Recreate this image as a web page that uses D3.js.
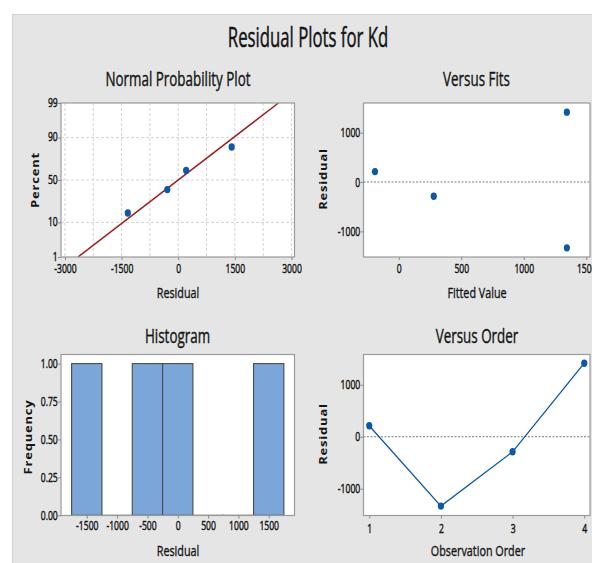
<!DOCTYPE html>
<html>
<head>
<meta charset="utf-8">
<script src="https://cdn.jsdelivr.net/npm/d3@7"></script>
<style>
  body { margin: 0; background: #fff; }
  text { font-family: "Open Sans", "DejaVu Sans", sans-serif; fill: #141414; }
</style>
</head>
<body>
<script>
const svgWidth = 592
const svgHeight = 563

// data
const obsOrder = [1, 2, 3, 4]
const fitted = [-190, 1345, 280, 1345]
const residuals = [210, -1335, -290, 1415]
const normResid = [-1335, -290, 210, 1415]
const normPercent = [15.9, 38.6, 61.4, 84.1]
const fitLineResid = [-2655, 2655]
const fitLinePercent = [1, 99]
const histMid = [-1500, -1000, -500, 0, 500, 1000, 1500]
const histCount = [1, 0, 1, 1, 0, 0, 1]
const binWidth = 500

const nppXTicks = [-3000, -1500, 0, 1500, 3000]
const nppXGrid = [-3000, -2250, -1500, -750, 0, 750, 1500, 2250, 3000]
const nppYTicks = [1, 10, 50, 90, 99]
const nppYGrid = [10, 50, 90]
const fitsXTicks = [0, 500, 1000, 1500]
const residTicks = [-1000, 0, 1000]
const histXTicks = [-1500, -1000, -500, 0, 500, 1000, 1500]
const histYTicks = [0, 0.25, 0.5, 0.75, 1]

const blue = "#0b57a8"
const ink = "#141414"

// inverse normal cdf (Acklam) for the probability axis
function qnorm(p) {
  const a = [-39.69683028665376, 220.9460984245205, -275.9285104469687, 138.3577518672690, -30.66479806614716, 2.506628277459239]
  const b = [-54.47609879822406, 161.5858368580409, -155.6989798598866, 66.80131188771972, -13.28068155288572]
  const c = [-0.007784894002430293, -0.3223964580411365, -2.400758277161838, -2.549732539343734, 4.374664141464968, 2.938163982698783]
  const d = [0.007784695709041462, 0.3224671290700398, 2.445134137142996, 3.754408661907416]
  const pl = 0.02425
  let q, r
  if (p < pl) {
    q = Math.sqrt(-2 * Math.log(p))
    return (((((c[0]*q+c[1])*q+c[2])*q+c[3])*q+c[4])*q+c[5]) / ((((d[0]*q+d[1])*q+d[2])*q+d[3])*q+1)
  } else if (p <= 1 - pl) {
    q = p - 0.5; r = q * q
    return (((((a[0]*r+a[1])*r+a[2])*r+a[3])*r+a[4])*r+a[5])*q / (((((b[0]*r+b[1])*r+b[2])*r+b[3])*r+b[4])*r+1)
  }
  q = Math.sqrt(-2 * Math.log(1 - p))
  return -(((((c[0]*q+c[1])*q+c[2])*q+c[3])*q+c[4])*q+c[5]) / ((((d[0]*q+d[1])*q+d[2])*q+d[3])*q+1)
}

const svg = d3.select("body").append("svg")
  .attr("width", svgWidth)
  .attr("height", svgHeight)

svg.append("rect")
  .attr("x", 12.5).attr("y", 14.5)
  .attr("width", svgWidth).attr("height", svgHeight)
  .attr("fill", "#e5e5e5")
  .attr("stroke", "#d3d3d3")

// narrow text helper: the reference glyphs are squeezed horizontally
function label(text, x, y, size, sx, opts = {}) {
  const t = svg.append("text")
    .attr("transform", `translate(${x},${y}) scale(${sx},1)` + (opts.rotate ? " rotate(-90)" : ""))
    .attr("text-anchor", "middle")
    .attr("font-size", size)
    .text(text)
  if (opts.bold) t.attr("font-weight", opts.bold)
  if (opts.spacing) t.attr("letter-spacing", opts.spacing)
  if (opts.thick) t.attr("stroke", ink).attr("stroke-width", opts.thick)
  return t
}

label("Residual Plots for Kd", 308, 46.5, 27, 0.62, { thick: 0.5 })

const colLeft = [61, 294.5]
const colRight = [363.5, 590]
const rowTop = [103, 257]
const rowBottom = [354.5, 515.5]

const plain = d => String(d)

function frame(xr, yr) {
  return svg.append("rect")
    .attr("x", xr[0]).attr("y", yr[0])
    .attr("width", xr[1] - xr[0]).attr("height", yr[1] - yr[0])
    .attr("fill", "#fff")
}
function border(xr, yr) {
  svg.append("rect")
    .attr("x", xr[0]).attr("y", yr[0])
    .attr("width", xr[1] - xr[0]).attr("height", yr[1] - yr[0])
    .attr("fill", "none")
    .attr("stroke", "#9a9a9a")
    .attr("stroke-width", 1.2)
}
function styleAxis(g, dx) {
  g.select(".domain").remove()
  g.selectAll("line").attr("stroke", "#888")
  g.selectAll("text")
    .attr("font-size", 13)
    .attr("fill", ink)
    .attr("stroke", ink)
    .attr("stroke-width", 0.45)
    .style("font-family", '"Open Sans", sans-serif')
    .attr("transform", "scale(0.66,1)")
  if (dx !== undefined) g.selectAll("text").attr("x", dx)
}
function zeroLine(xr, y) {
  svg.append("line")
    .attr("x1", xr[0]).attr("x2", xr[1])
    .attr("y1", y(0)).attr("y2", y(0))
    .attr("stroke", "#7a7a7a")
    .attr("stroke-dasharray", "2,1.5")
}
function dots(data, cx, cy) {
  svg.append("g").selectAll("ellipse")
    .data(data)
    .enter()
    .append("ellipse")
    .attr("cx", cx)
    .attr("cy", cy)
    .attr("rx", 3.1)
    .attr("ry", 3.7)
    .attr("fill", blue)
}

// ---- Normal probability plot
{
  const x = d3.scaleLinear().domain([-3105, 3080]).range(colLeft)
  const y = d3.scaleLinear().domain([qnorm(0.01), qnorm(0.99)]).range([rowTop[1], rowTop[0]])
  const yp = p => y(qnorm(p / 100))
  frame(colLeft, rowTop)
  svg.append("g").selectAll("line")
    .data(nppXGrid).enter().append("line")
    .attr("x1", d => x(d)).attr("x2", d => x(d))
    .attr("y1", rowTop[0]).attr("y2", rowTop[1])
    .attr("stroke", "#d4d4d4").attr("stroke-dasharray", "3,2")
  svg.append("g").selectAll("line")
    .data(nppYGrid).enter().append("line")
    .attr("x1", colLeft[0]).attr("x2", colLeft[1])
    .attr("y1", d => yp(d)).attr("y2", d => yp(d))
    .attr("stroke", "#d4d4d4").attr("stroke-dasharray", "3,2")
  svg.append("line")
    .attr("x1", x(fitLineResid[0])).attr("y1", yp(fitLinePercent[0]))
    .attr("x2", x(fitLineResid[1])).attr("y2", yp(fitLinePercent[1]))
    .attr("stroke", "#a31c1c").attr("stroke-width", 1.5)
  dots(normResid.map((r, i) => [r, normPercent[i]]), d => x(d[0]), d => yp(d[1]))
  border(colLeft, rowTop)
  const xa = svg.append("g").attr("transform", `translate(0,${rowTop[1]})`)
    .call(d3.axisBottom(x).tickValues(nppXTicks).tickSize(3).tickSizeOuter(0).tickFormat(plain))
  styleAxis(xa)
  xa.selectAll("text").attr("y", 7)
  const ya = svg.append("g").attr("transform", `translate(${colLeft[0]},0)`)
    .call(d3.axisLeft(y).tickValues(nppYTicks.map(p => qnorm(p / 100))).tickSize(3).tickSizeOuter(0)
      .tickFormat((d, i) => nppYTicks[i]))
  styleAxis(ya, -5)
  ya.selectAll("text").attr("dy", "0.25em")
  label("Normal Probability Plot", 178, 86, 20, 0.67, { thick: 0.4 })
  label("Residual", 178, 297.5, 15, 0.72, { thick: 0.35 })
  label("Percent", 39, 180, 13, 0.85, { rotate: true, bold: 700, spacing: 0.8 })
}

// ---- Versus fits
{
  const x = d3.scaleLinear().domain([-282, 1530]).range(colRight)
  const y = d3.scaleLinear().domain([-1520, 1600]).range([rowTop[1], rowTop[0]])
  frame(colRight, rowTop)
  zeroLine(colRight, y)
  dots(fitted.map((f, i) => [f, residuals[i]]), d => x(d[0]), d => y(d[1]))
  border(colRight, rowTop)
  const xa = svg.append("g").attr("transform", `translate(0,${rowTop[1]})`)
    .call(d3.axisBottom(x).tickValues(fitsXTicks).tickSize(3).tickSizeOuter(0).tickFormat(plain))
  styleAxis(xa)
  xa.selectAll("text").attr("y", 7)
  const ya = svg.append("g").attr("transform", `translate(${colRight[0]},0)`)
    .call(d3.axisLeft(y).tickValues(residTicks).tickSize(3).tickSizeOuter(0).tickFormat(plain))
  styleAxis(ya, -5)
  label("Versus Fits", 476.5, 85.5, 20, 0.67, { thick: 0.4 })
  label("Fitted Value", 477, 297.5, 15, 0.72, { thick: 0.35 })
  label("Residual", 327, 179, 13, 0.85, { rotate: true, bold: 700, spacing: 0.8 })
}

// ---- Histogram
{
  const x = d3.scaleLinear().domain([-1925, 1925]).range(colLeft)
  const y = d3.scaleLinear().domain([0, 1.06]).range([515.3, rowBottom[0]])
  frame(colLeft, rowBottom)
  svg.append("g").selectAll("rect")
    .data(histMid.map((m, i) => [m, histCount[i]]))
    .enter()
    .append("rect")
    .attr("x", d => x(d[0] - binWidth / 2))
    .attr("width", d => x(d[0] + binWidth / 2) - x(d[0] - binWidth / 2))
    .attr("y", d => y(d[1]))
    .attr("height", d => Math.max(y(0) - y(d[1]), 0.01))
    .attr("fill", "#7ba6d9")
    .attr("stroke", "#4a4a4a")
    .attr("stroke-width", 1.1)
  border(colLeft, rowBottom)
  const xa = svg.append("g").attr("transform", `translate(0,${rowBottom[1]})`)
    .call(d3.axisBottom(x).tickValues(histXTicks).tickSize(3).tickSizeOuter(0).tickFormat(plain))
  styleAxis(xa)
  xa.selectAll("text").attr("y", 5)
  const ya = svg.append("g").attr("transform", `translate(${colLeft[0]},0)`)
    .call(d3.axisLeft(y).tickValues(histYTicks).tickSize(3).tickSizeOuter(0).tickFormat(d3.format(".2f")))
  styleAxis(ya, -5)
  label("Histogram", 177.5, 342.5, 20, 0.67, { thick: 0.4 })
  label("Residual", 178, 556, 15, 0.72, { thick: 0.35 })
  label("Frequency", 32, 437, 13, 0.85, { rotate: true, bold: 700, spacing: 0.8 })
}

// ---- Versus order
{
  const x = d3.scaleLinear().domain([0.92, 4.08]).range(colRight)
  const y = d3.scaleLinear().domain([-1516, 1582]).range([rowBottom[1], rowBottom[0]])
  frame(colRight, rowBottom)
  zeroLine(colRight, y)
  const pts = obsOrder.map((o, i) => [o, residuals[i]])
  svg.append("path")
    .datum(pts)
    .attr("fill", "none")
    .attr("stroke", blue)
    .attr("stroke-width", 1.3)
    .attr("d", d3.line().x(d => x(d[0])).y(d => y(d[1])))
  dots(pts, d => x(d[0]), d => y(d[1]))
  border(colRight, rowBottom)
  const xa = svg.append("g").attr("transform", `translate(0,${rowBottom[1]})`)
    .call(d3.axisBottom(x).tickValues(obsOrder).tickSize(3).tickSizeOuter(0).tickFormat(plain))
  styleAxis(xa)
  xa.selectAll("text").attr("y", 8)
  const ya = svg.append("g").attr("transform", `translate(${colRight[0]},0)`)
    .call(d3.axisLeft(y).tickValues(residTicks).tickSize(3).tickSizeOuter(0).tickFormat(plain))
  styleAxis(ya, -5)
  label("Versus Order", 477, 342.5, 20, 0.67, { thick: 0.4 })
  label("Observation Order", 478, 555.5, 15, 0.72, { thick: 0.35 })
  label("Residual", 327, 434, 13, 0.85, { rotate: true, bold: 700, spacing: 0.8 })
}
</script>
</body>
</html>
